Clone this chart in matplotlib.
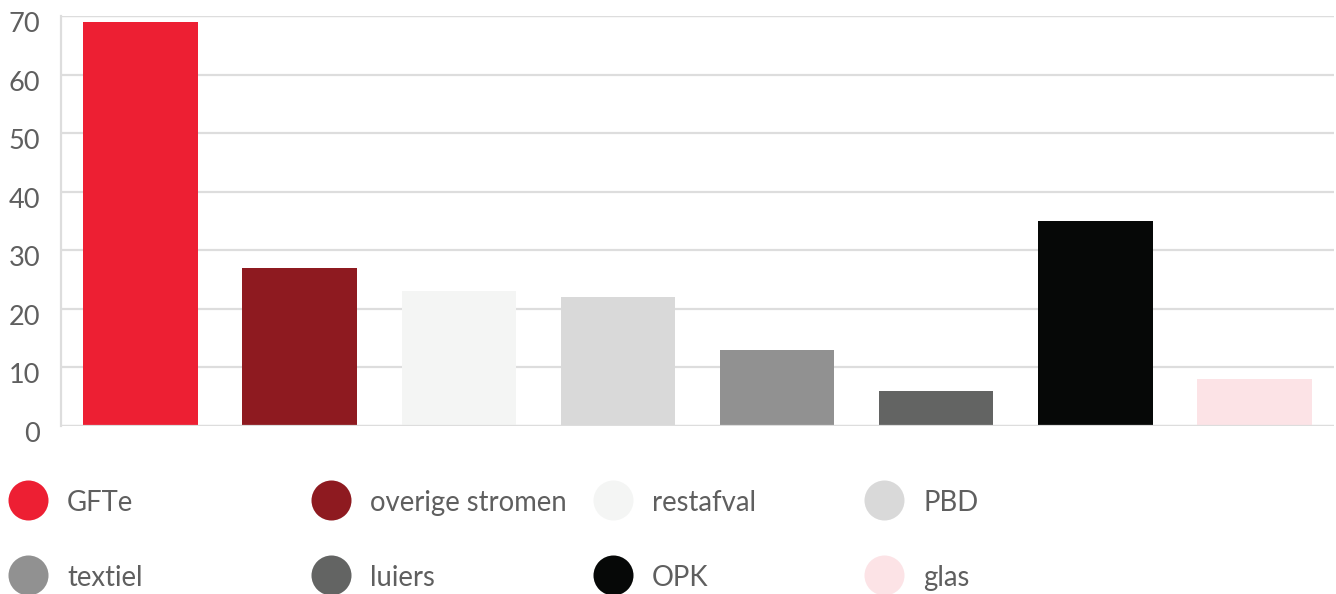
import matplotlib.pyplot as plt
from matplotlib.transforms import ScaledTranslation

plt.rcParams['font.family'] = ['Lato', 'DejaVu Sans']

categorieen = ['GFTe', 'overige stromen', 'restafval', 'PBD', 'textiel', 'luiers', 'OPK', 'glas']
waarden = [69, 27, 23, 22, 13, 6, 35, 8]
kleuren = ['#ED1F33', '#8E1A20', '#F4F5F4', '#D9D9D9', '#919191', '#636463', '#060807', '#FCE3E6']
yticks = [0, 10, 20, 30, 40, 50, 60, 70]

tekstkleur = '#5F5F5F'
rasterkleur = '#DDDDDD'

fig = plt.figure(figsize=(13.36, 5.94), dpi=100)
ax = fig.add_axes([61/1336, 1 - 426/594, 1273/1336, 410/594])

x = list(range(len(categorieen)))
ax.bar(x, waarden, width=0.72, color=kleuren, zorder=3)
ax.set_xlim(-0.5, len(categorieen) - 0.5)
ax.set_ylim(0, 70)
ax.set_yticks(yticks)
ax.set_xticks([])
ax.grid(axis='y', color=rasterkleur, linewidth=1.6, zorder=0)
ax.tick_params(axis='y', length=0, pad=15, labelsize=19.5, labelcolor=tekstkleur)
for s in ['top', 'right', 'bottom']:
    ax.spines[s].set_visible(False)
ax.spines['left'].set_color(rasterkleur)
ax.spines['left'].set_linewidth(1.6)
ax.axhline(0, color=rasterkleur, linewidth=1.6, zorder=4)
ax.axhline(70, color=rasterkleur, linewidth=1.6, zorder=0)
offset = ScaledTranslation(0, -6/100, fig.dpi_scale_trans)
for lbl in ax.get_yticklabels():
    lbl.set_transform(lbl.get_transform() + offset)

# legenda
lg = fig.add_axes([0, 0, 1, 1])
lg.set_xlim(0, 1336)
lg.set_ylim(594, 0)
lg.axis('off')
kolom_x = [28, 331, 613, 884]
rij_y = [500, 575]
for i, (naam, kleur) in enumerate(zip(categorieen, kleuren)):
    cx = kolom_x[i % 4]
    cy = rij_y[i // 4]
    lg.scatter(cx, cy, s=830, color=kleur, linewidths=0)
    lg.text(cx + 39, cy + 3, naam, fontsize=19.8, color=tekstkleur, va='center', ha='left')

plt.savefig('out.png', format='png')
